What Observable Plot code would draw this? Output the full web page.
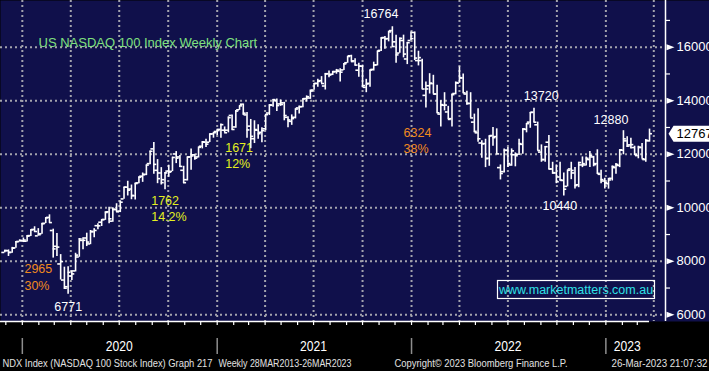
<!DOCTYPE html>
<html><head><meta charset="utf-8">
<script src="https://cdn.jsdelivr.net/npm/d3@7"></script>
<script src="https://cdn.jsdelivr.net/npm/@observablehq/plot@0.6"></script>
<style>
html,body{margin:0;padding:0;background:#000;overflow:hidden;}
#chart svg{display:block;}
</style></head><body><div id="chart"></div>
<script>
// Weekly OHLC (week ending, open, high, low, close)
const bars2019 = [
["2019-11-29",8330,8412,8315,8403],["2019-12-06",8395,8425,8180,8330],["2019-12-13",8335,8520,8300,8490],
["2019-12-20",8500,8740,8490,8730],["2019-12-27",8740,8800,8720,8778]];
const bars2020 = [
["2020-01-03",8770,8870,8700,8793],["2020-01-10",8750,8960,8720,8940],["2020-01-17",8960,9180,8930,9173],
["2020-01-24",9190,9290,9080,9114],["2020-01-31",8950,9220,8950,8992],["2020-02-07",9030,9420,9010,9401],
["2020-02-14",9420,9630,9410,9623],["2020-02-21",9640,9736,9420,9446],["2020-02-28",9150,9200,8120,8462],
["2020-03-06",8560,9040,8180,8530],["2020-03-13",7900,8250,7300,7990],["2020-03-20",7300,7780,6950,6994],
["2020-03-27",7050,7800,6771,7586],["2020-04-03",7450,7650,7280,7528],["2020-04-10",7640,8300,7600,8231],
["2020-04-17",8160,8850,8150,8833],["2020-04-24",8780,8880,8430,8784],["2020-05-01",8870,9050,8550,8718],
["2020-05-08",8650,9150,8620,9121],["2020-05-15",9100,9220,8880,9152],["2020-05-22",9330,9400,9180,9325],
["2020-05-29",9460,9560,9300,9555],["2020-06-05",9560,9850,9530,9825],["2020-06-12",9850,10020,9400,9588],
["2020-06-19",9500,10000,9460,9946],["2020-06-26",9930,10150,9830,9850],["2020-07-03",9870,10260,9820,10208],
["2020-07-10",10330,10770,10320,10768],["2020-07-17",10770,10990,10440,10656],["2020-07-24",10700,10850,10300,10461],
["2020-07-31",10450,10920,10290,10905],["2020-08-07",10930,11160,10900,11139],["2020-08-14",11180,11300,10950,11234],
["2020-08-21",11250,11600,11200,11595],["2020-08-28",11650,12120,11610,12110],["2020-09-04",12200,12439,11250,11622],
["2020-09-11",11400,11800,10900,11088],["2020-09-18",11300,11500,10850,10939],["2020-09-25",11050,11320,10677,11303],
["2020-10-02",11370,11590,11140,11333],["2020-10-09",11360,11890,11350,11880],["2020-10-16",12010,12100,11650,11854],
["2020-10-23",11900,11950,11500,11546],["2020-10-30",11400,11550,10900,10937],["2020-11-06",11050,11900,11000,11895],
["2020-11-13",11900,12200,11400,11937],["2020-11-20",11980,12000,11780,11854],["2020-11-27",11900,12270,11860,12258],
["2020-12-04",12300,12470,12200,12465],["2020-12-11",12450,12560,12250,12377],["2020-12-18",12450,12760,12440,12756],
["2020-12-25",12760,12820,12600,12804]];
const bars2021 = [
["2021-01-01",12850,12930,12700,12888],["2021-01-08",12930,13130,12600,13105],["2021-01-15",12900,13020,12800,12803],
["2021-01-22",12900,13400,12800,13367],["2021-01-29",13450,13470,12900,12925],["2021-02-05",13020,13630,12970,13612],
["2021-02-12",13660,13810,13640,13808],["2021-02-19",13870,13879,13450,13535],["2021-02-26",13470,13560,12600,12909],
["2021-03-05",13050,13300,12208,12668],["2021-03-12",12580,13250,12400,12923],["2021-03-19",12900,13100,12560,12767],
["2021-03-26",12820,12990,12430,12881],["2021-04-02",12950,13490,12880,13480],["2021-04-09",13540,13850,13450,13845],
["2021-04-16",13830,14050,13760,14041],["2021-04-23",14000,14060,13600,13818],["2021-04-30",13880,14030,13790,13860],
["2021-05-07",13920,13940,13250,13447],["2021-05-14",13380,13400,12990,13280],["2021-05-21",13230,13470,13080,13332],
["2021-05-28",13380,13700,13320,13687],["2021-06-04",13730,13800,13500,13774],["2021-06-11",13780,14070,13740,14069],
["2021-06-18",14080,14180,13950,14150],["2021-06-25",14100,14400,14050,14360],["2021-07-02",14400,14640,14390,14640],
["2021-07-09",14650,14800,14500,14723],["2021-07-16",14750,14900,14640,14642],["2021-07-23",14550,15020,14400,15000],
["2021-07-30",15010,15110,14860,14959],["2021-08-06",14990,15100,14940,15080],["2021-08-13",15090,15170,14990,15142],
["2021-08-20",15100,15190,14700,15067],["2021-08-27",15150,15390,15130,15376],["2021-09-03",15420,15660,15400,15653],
["2021-09-10",15680,15700,15450,15462],["2021-09-17",15490,15570,15300,15331],["2021-09-24",15140,15400,14880,15292],
["2021-10-01",15290,15330,14480,14566],["2021-10-08",14500,14800,14300,14625],["2021-10-15",14650,15150,14500,15146],
["2021-10-22",15170,15440,15110,15335],["2021-10-29",15340,15860,15300,15850],["2021-11-05",15880,16350,15840,16345],
["2021-11-12",16360,16400,15920,16314],["2021-11-19",16320,16600,16200,16573],["2021-11-26",16620,16764,16000,16025],
["2021-12-03",16200,16450,15400,15712],["2021-12-10",15780,16340,15770,16331],["2021-12-17",16250,16450,15600,15743],
["2021-12-24",15560,16180,15350,16168],["2021-12-31",16250,16570,16250,16321]];
const bars2022 = [
["2022-01-07",16550,16570,15500,15594],["2022-01-14",15500,15850,15300,15611],["2022-01-21",15500,15550,14430,14438],
["2022-01-28",14200,14700,13730,14440],["2022-02-04",14560,15010,14250,14658],["2022-02-11",14640,14950,14250,14253],
["2022-02-18",14250,14580,13530,13548],["2022-02-25",13500,14000,13020,13854],["2022-03-04",13830,14300,13620,13838],
["2022-03-11",13580,13790,13300,13301],["2022-03-18",13330,14250,13020,14226],["2022-03-25",14270,14700,14220,14676],
["2022-04-01",14660,15265,14650,14861],["2022-04-08",14850,15000,14280,14293],["2022-04-15",14250,14350,13830,13897],
["2022-04-22",13900,14300,13350,13357],["2022-04-29",13200,13500,12800,12855],["2022-05-06",12800,13700,12450,12578],
["2022-05-13",12420,12500,11850,12387],["2022-05-20",12400,12560,11500,11835],["2022-05-27",11850,12690,11550,12681],
["2022-06-03",12700,13000,12300,12620],["2022-06-10",12660,12950,12000,12013],["2022-06-17",11500,11600,11040,11280],
["2022-06-24",11350,12200,11300,12143],["2022-07-01",12150,12250,11500,11652],["2022-07-08",11600,12200,11550,12126],
["2022-07-15",11980,12050,11530,11944],["2022-07-22",12000,12560,11950,12397],["2022-07-29",12370,12950,12000,12947],
["2022-08-05",12930,13150,12800,13145],["2022-08-12",13200,13560,12970,13560],["2022-08-19",13570,13720,13180,13198],
["2022-08-26",13100,13200,12130,12141],["2022-09-02",12080,12350,11700,11800],["2022-09-09",11800,12290,11700,12282],
["2022-09-16",12450,12700,11420,11448],["2022-09-23",11450,11700,11250,11311],["2022-09-30",11300,11600,10900,10971],
["2022-10-07",11150,11700,11000,11038],["2022-10-14",11020,11300,10440,10693],["2022-10-21",10800,11410,10780,11401],
["2022-10-28",11450,11700,11050,11395],["2022-11-04",11300,11500,10700,10828],["2022-11-11",10860,11700,10750,11689],
["2022-11-18",11600,11900,11500,11649],["2022-11-25",11600,11900,11560,11850],["2022-12-02",11800,12100,11500,11956],
["2022-12-09",11900,11920,11530,11612],["2022-12-16",11650,12166,11250,11286],["2022-12-23",11250,11400,10900,11053],
["2022-12-30",11000,11100,10700,10940]];
const bars2023 = [
["2023-01-06",10900,11100,10696,11040],["2023-01-13",11100,11560,11000,11541],["2023-01-20",11500,11650,11250,11619],
["2023-01-27",11580,12170,11500,12166],["2023-02-03",12150,12880,11980,12574],["2023-02-10",12500,12650,12250,12304],
["2023-02-17",12350,12600,12200,12359],["2023-02-24",12250,12300,11950,11995],["2023-03-03",11950,12300,11830,12266],
["2023-03-10",12250,12400,11830,11830],["2023-03-17",11800,12550,11700,12520],["2023-03-24",12500,12940,12450,12767]];

const yTicks = [6000, 8000, 10000, 12000, 14000, 16000];
const yMinorTicks = [7000, 9000, 11000, 13000, 15000, 17000];
const quarterLines = ["2020-01-01","2020-04-01","2020-07-01","2020-10-01","2021-01-01","2021-04-01","2021-07-01","2021-10-01",
  "2022-01-01","2022-04-01","2022-07-01","2022-10-01","2023-01-01","2023-04-01"];
const yearStarts = ["2020-01-01","2021-01-01","2022-01-01","2023-01-01"];
const yearLabels = ["2020","2021","2022","2023"];
const yearLabelDates = ["2020-07-01","2021-07-01","2022-07-01","2023-02-10"];

// annotations: [text, date, value] (left edge / middle of text in data space)
const whiteNotes = [["16764","2021-10-03",17222],["13720","2022-07-31",14158],["12880","2022-12-09",13261],
  ["10440","2022-09-04",10084],["6771","2020-03-01",6291]];
const orangeNotes = [["6324","2021-12-17",12812],["38%","2021-12-17",12214],["2965","2020-01-05",7711],["30%","2020-01-05",7095]];
const yellowNotes = [["1671","2021-01-16",12215],["12%","2021-01-16",11617],["1762","2020-08-30",10253],["14.2%","2020-08-30",9655]];

const title = "US NASDAQ 100 Index Weekly Chart";
const watermark = "www.marketmatters.com.au";
const footerLeft = "NDX Index (NASDAQ 100 Stock Index) Graph 217";
const footerRange = "Weekly 28MAR2013-26MAR2023";
const footerCopy = "Copyright\u00A9 2023 Bloomberg Finance L.P.";
const footerStamp = "26-Mar-2023 21:07:32";

const xDomain = [new Date("2019-11-21"), new Date("2023-04-23")];
const yDomain = [5750, 17745];

// ---------------------------------------------------------------
const bars = [...bars2019, ...bars2020, ...bars2021, ...bars2022, ...bars2023]
  .map(([d, o, h, l, c]) => ({date: new Date(d), open: o, high: h, low: l, close: c}));
const last = bars[bars.length - 1];
const notes = arr => arr.map(([t, d, v]) => ({text: t, date: new Date(d), value: v}));

const navy = "#10104b";
const gridColor = "#a3a3ad";
const sans = "'Liberation Sans', Arial, sans-serif";
const footFill = "#e2e2e2";

const rightTriangle = {draw(ctx) { ctx.moveTo(0, -3); ctx.lineTo(8, 0); ctx.lineTo(0, 3); ctx.closePath(); }};
const priceTag = {draw(ctx) { ctx.moveTo(0, 0); ctx.lineTo(5, -8); ctx.lineTo(60, -8); ctx.lineTo(60, 8); ctx.lineTo(5, 8); ctx.closePath(); }};
const tickDays = 5.5;
const shift = (d, n) => new Date(+d + n * 864e5);
const foot = (txt, anchor, dx, ta) => Plot.text([txt], {frameAnchor: anchor, dx, dy: 42, textAnchor: ta, lineAnchor: "middle", fill: footFill, fontSize: 10});

const plot = Plot.plot({
  width: 709, height: 371,
  marginTop: 0, marginLeft: 0, marginRight: 44, marginBottom: 50,
  x: {type: "utc", domain: xDomain, axis: null},
  y: {domain: yDomain, axis: null},
  style: {background: "#000", fontFamily: sans, overflow: "hidden"},
  marks: [
    Plot.frame({fill: navy, stroke: null, insetRight: -44}),
    Plot.ruleX(quarterLines, {x: d => new Date(d), stroke: gridColor, strokeWidth: 2, strokeDasharray: "2,3"}),
    Plot.ruleY(yTicks, {y: d => d, stroke: gridColor, strokeWidth: 2, strokeDasharray: "2,3"}),
    // OHLC bars
    Plot.ruleX(bars, {x: "date", y1: "low", y2: "high", stroke: "white", strokeWidth: 1.6}),
    Plot.ruleY(bars, {y: "open", x1: d => shift(d.date, -tickDays), x2: "date", stroke: "white", strokeWidth: 1.6}),
    Plot.ruleY(bars, {y: "close", x1: "date", x2: d => shift(d.date, tickDays), stroke: "white", strokeWidth: 1.6}),
    // annotations
    Plot.text(notes(whiteNotes), {x: "date", y: "value", text: "text", textAnchor: "start", fill: "white", fontSize: 12.5}),
    Plot.text(notes(orangeNotes), {x: "date", y: "value", text: "text", textAnchor: "start", fill: "#f08a1e", fontSize: 12.5}),
    Plot.text(notes(yellowNotes), {x: "date", y: "value", text: "text", textAnchor: "start", fill: "#e4f020", fontSize: 12.5}),
    Plot.text([title], {frameAnchor: "top-left", dx: 38, dy: 42, textAnchor: "start", lineAnchor: "middle", fill: "#7fe07f", fontSize: 13}),
    // watermark
    Plot.frame({stroke: "white", strokeWidth: 1.2, insetLeft: 497, insetRight: 11, insetTop: 280, insetBottom: 23}),
    Plot.text([watermark], {frameAnchor: "top-left", dx: 575.5, dy: 289.5, textAnchor: "middle", lineAnchor: "middle", fill: "#2fe0e6", fontSize: 12.5}),
    // right axis
    Plot.ruleX([xDomain[1]], {x: d => d, stroke: "white", strokeWidth: 1.5}),
    Plot.ruleY(yMinorTicks, {y: d => d, stroke: "white", strokeWidth: 1.2, insetLeft: 665, insetRight: -5}),
    Plot.dot(yTicks, {y: d => d, frameAnchor: "right", dx: 1, symbol: rightTriangle, fill: "white", stroke: null, r: 4}),
    Plot.text(yTicks, {y: d => d, text: d => String(d), frameAnchor: "right", dx: 11, textAnchor: "start", fill: "white", fontSize: 13}),
    Plot.dot([last], {y: "close", frameAnchor: "right", dx: 3, symbol: priceTag, fill: "white", stroke: null, r: 4}),
    Plot.text([last], {y: "close", text: d => String(d.close), frameAnchor: "right", dx: 11, textAnchor: "start", fill: "black", fontSize: 13}),
    // bottom axis
    Plot.ruleY([yDomain[0]], {y: d => d, x1: () => xDomain[0], x2: () => last.date, stroke: "white", strokeWidth: 1.5}),
    Plot.ruleX(d3.utcMonth.range(new Date("2019-12-01"), new Date("2023-03-02")), {x: d => d, stroke: "white", strokeWidth: 1.2, insetTop: 321, insetBottom: -4}),
    Plot.ruleX(yearStarts, {x: d => new Date(d), stroke: "#8e8e8e", strokeWidth: 1.5, insetTop: 338, insetBottom: -33}),
    Plot.text(yearLabels, {x: (d, i) => new Date(yearLabelDates[i]), text: d => d, frameAnchor: "bottom", dy: 25, lineAnchor: "middle", fill: "white", fontSize: 14.5}),
    // footer
    foot(footerLeft, "bottom-left", 2, "start"),
    foot(footerRange, "bottom-left", 218, "start"),
    foot(footerCopy, "bottom-left", 394, "start"),
    foot(footerStamp, "bottom-right", 42, "end")
  ]
});
document.getElementById("chart").appendChild(plot);

// narrow Bloomberg-style lettering for the footer and year labels
const widths = new Map([[footerLeft, 210], [footerRange, 133], [footerCopy, 173], [footerStamp, 96],
  ["2020", 27], ["2021", 27], ["2022", 27], ["2023", 27]]);
d3.select(plot).selectAll("text").each(function() {
  const w = widths.get(this.textContent);
  if (w && (this.getAttribute("font-size") === "10" || this.getAttribute("font-size") === "14.5" || this.closest("g"))) {
    const fs = this.getAttribute("font-size") || (this.parentNode && this.parentNode.getAttribute("font-size"));
    if (this.textContent.length === 4 && !/^20/.test(this.textContent)) return;
    this.setAttribute("textLength", w);
    this.setAttribute("lengthAdjust", "spacingAndGlyphs");
  }
});
</script></body></html>
